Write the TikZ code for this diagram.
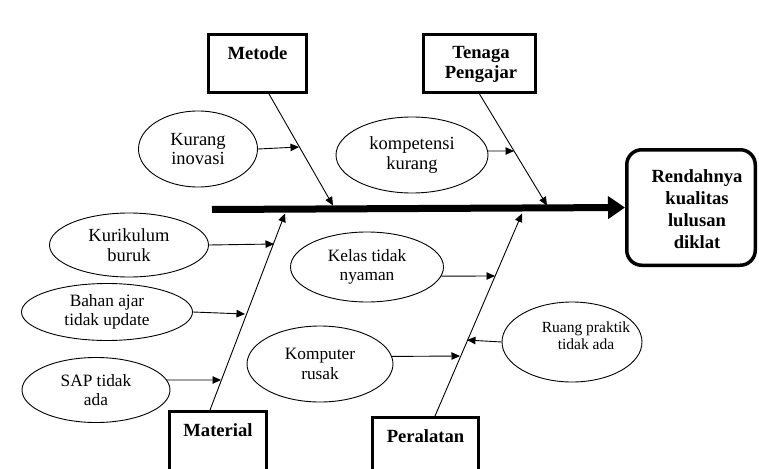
\documentclass[tikz,border=0pt]{standalone}
\usepackage{fontspec}
\setmainfont{Liberation Serif}
\usetikzlibrary{arrows.meta,shapes.geometric}
\begin{document}
\begin{tikzpicture}[x=1pt,y=-1pt,
  ell/.style={draw, ellipse, line width=0.9pt, inner sep=0pt, align=center},
  catbox/.style={draw, rectangle, line width=2.7pt, inner sep=0pt},
  bigf/.style={font=\fontsize{18.5}{19.5}\selectfont},
  midf/.style={font=\fontsize{17.3}{19.5}\selectfont},
  smallf/.style={font=\fontsize{15.5}{17.3}\selectfont},
  boldf/.style={font=\bfseries\fontsize{18.6}{20}\selectfont, align=center, inner sep=0pt},
  conn/.style={line width=0.9pt},
  arr/.style={line width=0.9pt, -{Triangle[length=8.5pt,width=7.5pt]}}
]
\useasboundingbox (0,0) rectangle (759,468);
\fill[white] (0,0) rectangle (759,468);

% category boxes
\node[catbox, minimum width=98.3pt, minimum height=58.3pt] (metode) at (257.5,63.5) {};
\node[boldf] (metodetxt) at (257.5,53) {Metode};
\node[catbox, minimum width=112.3pt, minimum height=58.3pt] (tenaga) at (479.5,63.5) {};
\node[boldf] (tenagatxt) at (481,64) {Tenaga\\Pengajar};
\node[catbox, minimum width=97.3pt, minimum height=80pt] (material) at (218,451.35) {};
\node[boldf] (materialtxt) at (218,430) {Material};
\node[catbox, minimum width=106.3pt, minimum height=80pt] (peralatan) at (425.5,457.35) {};
\node[boldf] (peralatantxt) at (425.5,436.5) {Peralatan};

% effect box
\node[draw, rectangle, rounded corners=15pt, line width=3.5pt, minimum width=128.5pt, minimum height=115.5pt, inner sep=0pt] (rend) at (691,207.5) {};
\node[font=\bfseries\fontsize{18.6}{21.8}\selectfont, align=center, inner sep=0pt] (rendtxt) at (697,209) {Rendahnya\\kualitas\\lulusan\\diklat};

% spine
\coordinate (spineL) at (212,209.5);
\draw[line width=7pt, -{Triangle[length=17pt,width=22pt]}] (spineL) -- (rend.west);

% branch end points on the spine
\coordinate (mE) at (333,205.5);
\coordinate (tE) at (547,205.5);
\coordinate (maE) at (285,213.5);
\coordinate (pE) at (522,213.5);

% branches
\draw[arr] ([xshift=11.5pt]metode.south) -- (mE);
\draw[arr] (tenaga.south) -- (tE);
\draw[arr] ([xshift=-8pt]material.north) -- (maE);
\draw[arr] ([xshift=9.5pt]peralatan.north) -- (pE);

% cause ellipses
\node[ell, bigf, minimum width=119pt, minimum height=76pt] (kur) at (198,149) {Kurang\\inovasi};
\node[ell, bigf, minimum width=152pt, minimum height=76pt] (komp) at (412,155) {kompetensi\\kurang};
\node[ell, bigf, minimum width=159pt, minimum height=64pt] (kurik) at (129,245) {Kurikulum\\buruk};
\node[ell, midf, minimum width=171pt, minimum height=57pt] (bahan) at (107,312) {Bahan ajar\\tidak update};
\node[ell, midf, minimum width=148pt, minimum height=65pt] (sap) at (96,390) {SAP tidak\\ada};
\node[ell, midf, minimum width=153pt, minimum height=70pt] (kelas) at (367,267) {Kelas tidak\\nyaman};
\node[ell, midf, minimum width=146pt, minimum height=76pt] (kompt) at (320,364) {Komputer\\rusak};
\node[ell, minimum width=140pt, minimum height=80pt] (ruang) at (572,342) {};
\node[smallf, align=center, inner sep=0pt] (ruangtxt) at (586,336) {Ruang praktik\\tidak ada};

% arrow targets on branches
\coordinate (a1) at (299,147);
\coordinate (a2) at (514,151);
\coordinate (a3) at (274,244);
\coordinate (a4) at (245,314);
\coordinate (a5) at (221,380);
\coordinate (a6) at (495,276);
\coordinate (a7) at (460,356);
\coordinate (a8) at (467,340);

\draw[arr] (kur.east) -- (a1);
\draw[arr] (komp.3) -- (a2);
\draw[arr] (kurik.east) -- (a3);
\draw[arr] (bahan.east) -- (a4);
\draw[arr] (sap.8) -- (a5);
\draw[arr] (kelas.353) -- (a6);
\draw[arr] (kompt.6) -- (a7);
\draw[arr] (ruang.west) -- (a8);
\end{tikzpicture}
\end{document}
